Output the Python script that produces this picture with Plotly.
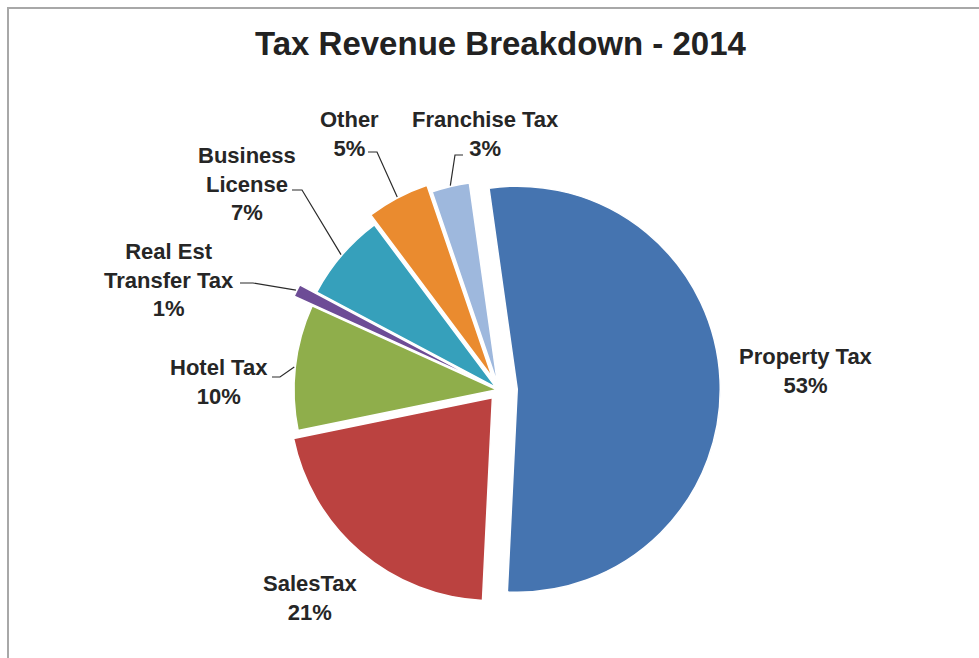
import math
import plotly.graph_objects as go

# Revenue shares for 2014 (percent), in drawing order clockwise from the top
categories = ["Property Tax", "SalesTax", "Hotel Tax", "Real Est<br>Transfer Tax",
              "Business<br>License", "Other", "Franchise Tax"]
shares = [53, 21, 10, 1, 7, 5, 3]

colors = ["#4574b0", "#bb4240", "#8fae4b", "#6d4c96", "#36a0bb", "#ea8b2f", "#9eb8dd"]
pulls = [0.09, 0.05, 0.01, 0.11, 0.02, 0.07, 0.03]

W, H = 979, 658
CX, CY, R = 499, 390, 203          # pie centre and radius in pixels
ROTATION = -8                        # start angle of the first slice (deg, clockwise from 12 o'clock)


def px_x(x):
    return x / W


def px_y(y):
    return 1 - y / H


half = R * (1 + max(pulls))
domain = dict(x=[px_x(CX - half), px_x(CX + half)],
              y=[px_y(CY + half), px_y(CY - half)])

fig = go.Figure(go.Pie(
    labels=categories,
    values=shares,
    sort=False,
    direction="clockwise",
    rotation=ROTATION,
    pull=pulls,
    marker=dict(colors=colors, line=dict(color="white", width=1.5)),
    textinfo="none",
    hoverinfo="label+percent",
    showlegend=False,
    domain=domain,
))

# Label block centres (pixels) and, where used, the leader start + elbow
label_pos = [(806, 371), (310, 598), (219, 382), (169, 280), (247, 184), (349, 134), (485, 134)]
leaders = {
    2: ((272, 377), (280, 377)),
    3: ((240, 283), (253, 283)),
    4: ((292, 190), (302, 190)),
    5: ((368, 152), (377, 152)),
    6: ((463, 155), (455, 155)),
}

total = sum(shares)
start = ROTATION
shapes = []
annotations = []
for i, (name, val) in enumerate(zip(categories, shares)):
    sweep = 360 * val / total
    mid = math.radians(start + sweep / 2)
    start += sweep
    pct = round(100 * val / total)
    lx, ly = label_pos[i]
    annotations.append(dict(
        text=f"<b>{name}<br>{pct}%</b>", x=px_x(lx), y=px_y(ly),
        xref="paper", yref="paper", showarrow=False, align="center",
        xanchor="center", yanchor="middle",
        font=dict(family="Liberation Sans", size=22, color="#262626"),
    ))
    if i in leaders:
        (sx, sy), (ex, ey) = leaders[i]
        d = R * (1 + pulls[i]) + 1
        ax = CX + d * math.sin(mid)
        ay = CY - d * math.cos(mid)
        shapes.append(dict(
            type="path", xref="paper", yref="paper",
            path=(f"M {px_x(sx)},{px_y(sy)} L {px_x(ex)},{px_y(ey)} "
                  f"L {px_x(ax)},{px_y(ay)}"),
            line=dict(color="#2b2b2b", width=1.2),
        ))

# Title
annotations.append(dict(
    text="<b>Tax Revenue Breakdown - 2014</b>", x=px_x(501), y=px_y(44),
    xref="paper", yref="paper", showarrow=False,
    xanchor="center", yanchor="middle",
    font=dict(family="Liberation Sans", size=33, color="#222222"),
))

# Chart frame (top and left edges visible)
shapes.append(dict(
    type="rect", xref="paper", yref="paper",
    x0=px_x(8), y0=px_y(8), x1=px_x(W + 10), y1=px_y(H + 10),
    line=dict(color="#a8a8a8", width=2),
))

fig.update_layout(
    width=W, height=H,
    margin=dict(l=0, r=0, t=0, b=0),
    paper_bgcolor="white", plot_bgcolor="white",
    shapes=shapes, annotations=annotations,
)

fig.write_html("out.html")
